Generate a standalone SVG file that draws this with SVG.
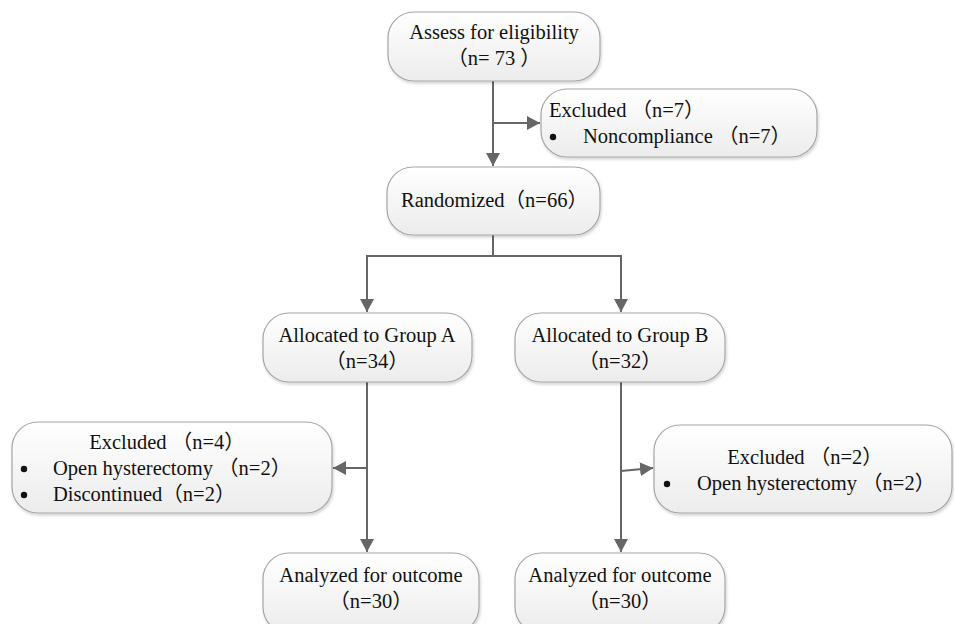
<svg xmlns="http://www.w3.org/2000/svg" width="954" height="624" viewBox="0 0 954 624">
<defs>
<linearGradient id="g" x1="0" y1="0" x2="0" y2="1">
<stop offset="0" stop-color="#ffffff"/>
<stop offset="1" stop-color="#ececec"/>
</linearGradient>
<filter id="sh" x="-5%" y="-5%" width="112%" height="120%">
<feGaussianBlur in="SourceAlpha" stdDeviation="1.5"/>
<feOffset dx="1" dy="2" result="b"/>
<feComponentTransfer><feFuncA type="linear" slope="0.18"/></feComponentTransfer>
<feMerge><feMergeNode/><feMergeNode in="SourceGraphic"/></feMerge>
</filter>
<marker id="ah" markerUnits="userSpaceOnUse" markerWidth="14" markerHeight="14" refX="13" refY="7" orient="auto">
<path d="M0,0 L13,7 L0,14 Z" fill="#666666"/>
</marker>
</defs>
<style>
.box{fill:url(#g);stroke:#a6a6a6;stroke-width:1.2;filter:url(#sh)}
.t{font-family:"Liberation Serif","Noto Sans CJK SC",serif;font-size:20.5px;fill:#111}
.c{text-anchor:middle}
.ln{fill:none;stroke:#666666;stroke-width:2}
.bl{fill:#111}
</style>
<g id="connectors">
<path class="ln" d="M493,81 V166" marker-end="url(#ah)"/>
<path class="ln" d="M493,123 H540" marker-end="url(#ah)"/>
<path class="ln" d="M493,235 V256"/>
<path class="ln" d="M493,256 H367 V312" marker-end="url(#ah)"/>
<path class="ln" d="M493,256 H621 V312" marker-end="url(#ah)"/>
<path class="ln" d="M367,382 V552" marker-end="url(#ah)"/>
<path class="ln" d="M367,468 H333" marker-end="url(#ah)"/>
<path class="ln" d="M621,382 V552" marker-end="url(#ah)"/>
<path class="ln" d="M621,471 L653,468" marker-end="url(#ah)"/>
</g>
<g id="assess">
<rect class="box" x="388" y="12" width="212" height="69" rx="26"/>
<text class="t c" x="494" y="39">Assess for eligibility</text>
<text class="t c" x="494" y="65">（n= 73 ）</text>
</g>
<g id="excluded7">
<rect class="box" x="541" y="89" width="276" height="68" rx="26"/>
<text class="t" x="549" y="117">Excluded （n=7）</text>
<circle class="bl" cx="553" cy="137" r="3.2"/>
<text class="t" x="583" y="143">Noncompliance （n=7）</text>
</g>
<g id="randomized">
<rect class="box" x="387" y="167" width="213" height="68" rx="26"/>
<text class="t" x="401" y="207">Randomized（n=66）</text>
</g>
<g id="allocA">
<rect class="box" x="263" y="313" width="209" height="69" rx="26"/>
<text class="t c" x="367" y="342">Allocated to Group A</text>
<text class="t c" x="367" y="368">（n=34）</text>
</g>
<g id="allocB">
<rect class="box" x="515" y="313" width="210" height="69" rx="26"/>
<text class="t c" x="620" y="342">Allocated to Group B</text>
<text class="t c" x="620" y="368">（n=32）</text>
</g>
<g id="excluded4">
<rect class="box" x="12" y="422" width="320" height="91" rx="26"/>
<text class="t c" x="167" y="449">Excluded （n=4）</text>
<circle class="bl" cx="24" cy="469" r="3.2"/>
<text class="t" x="53" y="475">Open hysterectomy （n=2）</text>
<circle class="bl" cx="24" cy="495" r="3.2"/>
<text class="t" x="53" y="501">Discontinued（n=2）</text>
</g>
<g id="excluded2">
<rect class="box" x="654" y="425" width="298" height="88" rx="26"/>
<text class="t c" x="805" y="464">Excluded （n=2）</text>
<circle class="bl" cx="667" cy="484" r="3.2"/>
<text class="t" x="697" y="490">Open hysterectomy （n=2）</text>
</g>
<g id="analyzedA">
<rect class="box" x="263" y="553" width="216" height="80" rx="26"/>
<text class="t c" x="371" y="582">Analyzed for outcome</text>
<text class="t c" x="371" y="608">（n=30）</text>
</g>
<g id="analyzedB">
<rect class="box" x="515" y="553" width="210" height="80" rx="26"/>
<text class="t c" x="620" y="582">Analyzed for outcome</text>
<text class="t c" x="620" y="608">（n=30）</text>
</g>
</svg>
